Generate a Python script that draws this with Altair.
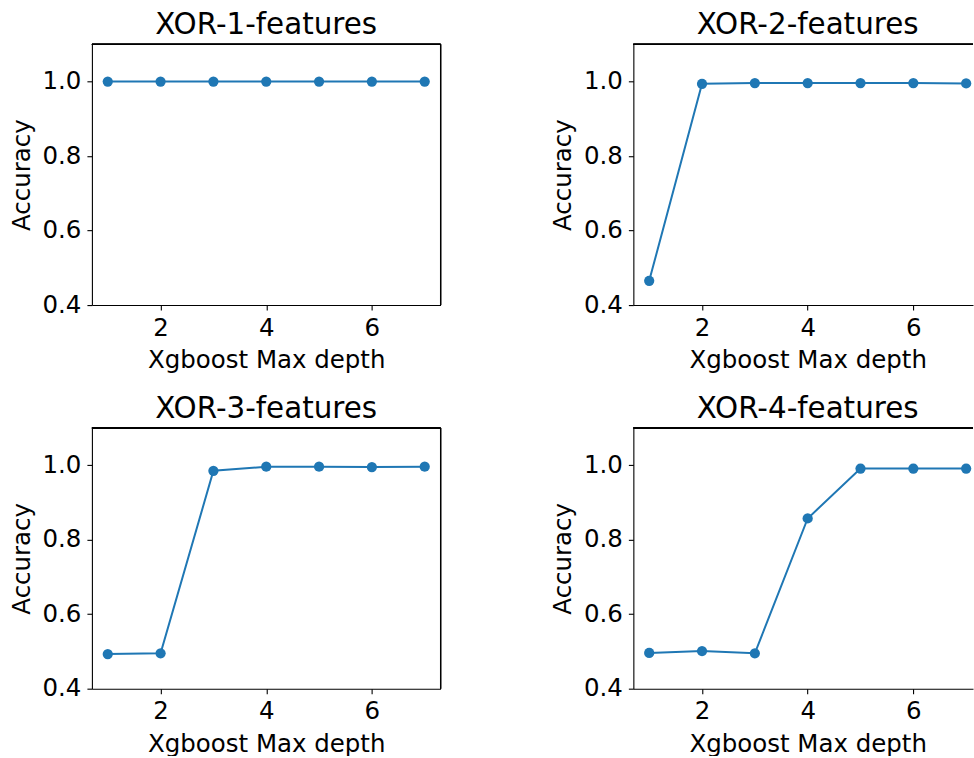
import altair as alt
import pandas as pd

# Xgboost max depth evaluated for every XOR dataset
depths = [1, 2, 3, 4, 5, 6, 7]

# Test accuracy per dataset
acc_xor1 = [1.000, 1.000, 1.000, 1.000, 1.000, 1.000, 1.000]
acc_xor2 = [0.465, 0.994, 0.996, 0.996, 0.996, 0.996, 0.995]
acc_xor3 = [0.493, 0.495, 0.985, 0.996, 0.996, 0.995, 0.996]
acc_xor4 = [0.496, 0.501, 0.495, 0.857, 0.991, 0.991, 0.991]

titles = ["XOR-1-features", "XOR-2-features", "XOR-3-features", "XOR-4-features"]
series = [acc_xor1, acc_xor2, acc_xor3, acc_xor4]

x_ticks = [2, 4, 6]
y_ticks = [0.4, 0.6, 0.8, 1.0]

FONT = "DejaVu Sans"
BLUE = "#1f77b4"
TICK_FS = 24.5
TITLE_FS = 29.4

PLOT_W = 349
PLOT_H = 261
CLIP_W = 340          # right column is cut at the page edge
UNIT = PLOT_W / 6.6   # pixels per depth step


def panel(title, values, right_col):
    df = pd.DataFrame({"depth": depths, "acc": values})
    w = CLIP_W if right_col else PLOT_W
    x_max = 0.7 + w / UNIT
    xs = alt.Scale(domain=[0.7, x_max], nice=False, zero=False)
    ys = alt.Scale(domain=[0.4, 1.1], nice=False, zero=False)

    x_axis = alt.Axis(
        values=x_ticks, format="d", title="Xgboost Max depth", grid=False,
        domainColor="black", domainWidth=1.1, tickColor="black", tickWidth=1.1,
        tickSize=5, labelPadding=6, labelFontSize=TICK_FS, titleFontSize=TICK_FS,
        labelFont=FONT, titleFont=FONT, labelColor="black", titleColor="black",
        titleFontWeight="normal", titlePadding=9, titleX=PLOT_W / 2,
        labelFlush=False,
    )
    y_axis = alt.Axis(
        values=y_ticks, format=".1f", title="Accuracy", grid=False,
        domainColor="black", domainWidth=1.1, tickColor="black", tickWidth=1.1,
        tickSize=5, labelPadding=6, labelFontSize=TICK_FS, titleFontSize=TICK_FS,
        labelFont=FONT, titleFont=FONT, labelColor="black", titleColor="black",
        titleFontWeight="normal", titlePadding=8, labelFlush=False,
    )
    line = alt.Chart(df).mark_line(color=BLUE, strokeWidth=2.0).encode(
        x=alt.X("depth:Q", scale=xs, axis=x_axis),
        y=alt.Y("acc:Q", scale=ys, axis=y_axis),
    )
    pts = alt.Chart(df).mark_point(
        filled=True, color=BLUE, size=105, opacity=1, shape="circle"
    ).encode(
        x=alt.X("depth:Q", scale=xs),
        y=alt.Y("acc:Q", scale=ys),
    )

    # top spine (and right spine where the panel is not cut off)
    top = alt.Chart(df).mark_rule(color="black", strokeWidth=1.1).encode(
        x=alt.value(0), x2=alt.value(w), y=alt.value(0)
    )
    layers = [top, line, pts]
    if not right_col:
        right = alt.Chart(df).mark_rule(color="black", strokeWidth=1.1).encode(
            x=alt.value(w), y=alt.value(0), y2=alt.value(PLOT_H)
        )
        layers.insert(1, right)

    return alt.layer(*layers).properties(
        width=w,
        height=PLOT_H,
        title=alt.TitleParams(
            title, fontSize=TITLE_FS, font=FONT, fontWeight="normal", color="black",
            anchor="middle", frame="group", baseline="alphabetic", offset=-20,
            dx=(PLOT_W - w) / 2,
        ),
    )


chart = alt.concat(
    panel(titles[0], series[0], False),
    panel(titles[1], series[1], True),
    panel(titles[2], series[2], False),
    panel(titles[3], series[3], True),
    columns=2,
    spacing={"row": 123, "column": 193},
    bounds="flush",
).properties(
    padding={"left": 9, "top": 10, "right": 0, "bottom": 0},
    background="white",
).configure_view(stroke=None)

chart.save("out.html", embed_options={"renderer": "svg", "actions": False})
